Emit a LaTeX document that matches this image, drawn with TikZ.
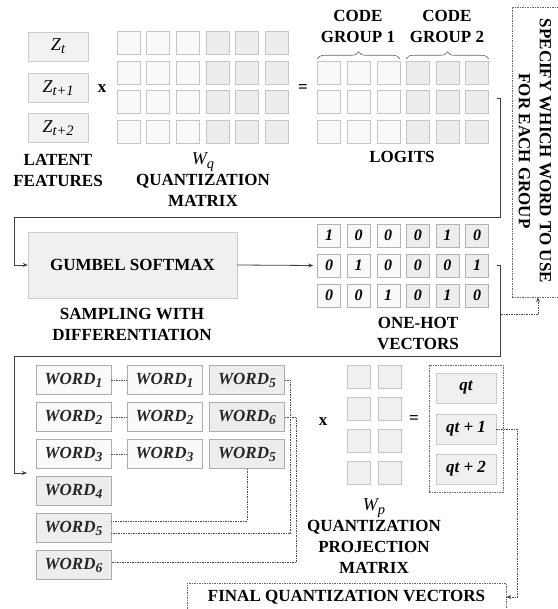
\documentclass[tikz,border=0pt]{standalone}
\usepackage{fontspec}
\setmainfont{Liberation Serif}
\usetikzlibrary{arrows.meta,decorations.pathreplacing}
\newcommand{\lowsub}[1]{\raisebox{-.4ex}{\scalebox{.8}{#1}}}

\begin{document}
\begin{tikzpicture}[x=1pt,y=-1pt,font=\fontsize{17}{21}\selectfont\bfseries,
  cell/.style={draw=gray!45,fill=#1,minimum size=23pt,inner sep=0pt,
    font=\fontsize{16}{16}\selectfont\bfseries\itshape},
  cell/.default=gray!5,
  zbox/.style={draw=gray!40,fill=gray!10,minimum width=60pt,minimum height=29pt,
    inner sep=0pt,font=\fontsize{18}{18}\selectfont\mdseries\itshape},
  wordbox/.style={draw=gray!65,fill=#1,minimum width=75pt,minimum height=29pt,
    inner sep=0pt,text=black!85,font=\fontsize{17}{17}\selectfont\bfseries\itshape},
  wordbox/.default=gray!4,
  conn/.style={draw=black!75,line width=0.8pt},
  dconn/.style={draw=black!70,line width=0.7pt,dash pattern=on 1.5pt off 1pt},
  dbox/.style={draw=black!60,line width=0.6pt,dash pattern=on 1.5pt off 1pt},
  tip/.style={-{Stealth[length=5pt,width=4pt]}}]
\useasboundingbox (0,0) rectangle (557,609);

% latent features x Wq = logits
\node[zbox] (z1) at (58,46.5) {Z\lowsub{t}};
\node[zbox] (z2) at (58,88) {Z\lowsub{t+1}};
\node[zbox] (z3) at (58,128) {Z\lowsub{t+2}};
\node[align=center] (latent) at (58,170) {LATENT\\FEATURES};
\node (times1) at (102,89) {x};
\foreach \r in {1,...,4}{
  \foreach \c in {1,...,6}{
    \ifnum\c>3 \def\cfill{gray!14}\else\def\cfill{gray!5}\fi
    \node[cell=\cfill] (wq-\r-\c) at ({128.5+29.6*(\c-1)},{43+29.5*(\r-1)}) {};
  }
}
\node[align=center] (wqlabel) at (203,180) {{\fontsize{18}{18}\selectfont\mdseries\itshape W\lowsub{q}}\\QUANTIZATION\\MATRIX};
\node (equal1) at (303,89) {=};
\foreach \r in {1,2,3}{
  \foreach \c in {1,...,6}{
    \ifnum\c>3 \def\cfill{gray!14}\else\def\cfill{gray!5}\fi
    \node[cell=\cfill] (l-\r-\c) at ({329+29.6*(\c-1)},{72.5+29.5*(\r-1)}) {};
  }
}
\draw[decorate,decoration={brace,amplitude=7pt},draw=black!60,line width=0.6pt]
  ([yshift=2pt]l-1-1.north west) -- ([yshift=2pt]l-1-3.north east);
\draw[decorate,decoration={brace,amplitude=7pt},draw=black!60,line width=0.6pt]
  ([yshift=2pt]l-1-4.north west) -- ([yshift=2pt]l-1-6.north east);
\node[align=center] (group1) at (358,26) {CODE\\GROUP 1};
\node[align=center] (group2) at (447,26) {CODE\\GROUP 2};
\node (logits) at (402,157) {LOGITS};

\node[dbox,minimum width=52pt,minimum height=290pt] (specify) at (538,152) {};
\node[rotate=-90,align=center] (specifytxt) at (535,151) {SPECIFY WHICH WORD TO USE\\FOR EACH GROUP};

% gumbel softmax -> one-hot
\node[draw=gray!40,fill=gray!12,minimum width=209pt,minimum height=66pt] (gumbel) at (132.5,265) {GUMBEL SOFTMAX};
\node[align=center] (sampling) at (132,324) {SAMPLING WITH\\DIFFERENTIATION};
\foreach \row [count=\r] in {{1,0,0,0,1,0},{0,1,0,0,0,1},{0,0,1,0,1,0}}{
  \foreach \v [count=\c] in \row {
    \ifnum\c>3 \def\cfill{gray!14}\else\def\cfill{gray!5}\fi
    \node[cell=\cfill,draw=gray!60] (o-\r-\c) at ({329+29.6*(\c-1)},{235.5+30*(\r-1)}) {\v};
  }
}
\node[align=center] (onehot) at (418,333) {ONE-HOT\\VECTORS};

\draw[conn,tip] ([shift={(8pt,4pt)}]l-2-6.east) -- ++(4,0) |- (14,217) |- (gumbel.west);
\draw[conn,tip] (gumbel.east) -- ([xshift=-4pt]o-2-1.west);

% words
\foreach \r in {1,...,6}{
  \ifnum\r>3 \def\cfill{gray!14}\else\def\cfill{gray!4}\fi
  \node[wordbox=\cfill] (w-\r-1) at (73.5,{380+37*(\r-1)}) {WORD\lowsub{\r}};
}
\foreach \r in {1,2,3}{
  \node[wordbox] (w-\r-2) at (164.5,{380+37*(\r-1)}) {WORD\lowsub{\r}};
  \draw[dconn] (w-\r-1) -- (w-\r-2);
}
\foreach \w [count=\r] in {5,6,5}{
  \node[wordbox=gray!14] (w-\r-3) at (247,{380+37*(\r-1)}) {WORD\lowsub{\w}};
}
\coordinate (wordsin) at (27,473);
\coordinate (split) at (501,314);
\draw[conn,tip] ([xshift=8pt]o-2-6.east) -- ++(4,0) |- (14,356) |- (wordsin);
\draw[dconn,tip] (split) -| (specify.south);

\draw[dconn] (w-1-3.east) -- ++(6,0) |- ([yshift=-5pt]w-5-1.east);
\draw[dconn] (w-3-3.south) |- ([yshift=7pt]w-5-1.east);
\draw[dconn] (w-2-3.east) -- ++(12,0) |- ([yshift=3pt]w-6-1.east);

% projection
\node (times2) at (323,422) {x};
\foreach \r in {1,...,4}{
  \foreach \c in {1,2}{
    \node[cell=gray!12] (wp-\r-\c) at ({359+30.5*(\c-1)},{376.5+32*(\r-1)}) {};
  }
}
\node[align=center] (wplabel) at (374,536.5) {{\fontsize{18}{18}\selectfont\mdseries\itshape W\lowsub{p}}\\QUANTIZATION\\PROJECTION\\MATRIX};
\node (equal2) at (414,420) {=};
\node[dbox,minimum width=74pt,minimum height=127pt] (qgroup) at (466,428.5) {};
\node[zbox,fill=gray!12,minimum height=30pt,font=\fontsize{17}{17}\selectfont\bfseries\itshape] (qt0) at (466,388) {qt};
\node[zbox,fill=gray!12,minimum height=30pt,font=\fontsize{17}{17}\selectfont\bfseries\itshape] (qt1) at (466,429) {qt + 1};
\node[zbox,fill=gray!12,minimum height=30pt,font=\fontsize{17}{17}\selectfont\bfseries\itshape] (qt2) at (466,469) {qt + 2};
\node[dbox,minimum width=319pt,minimum height=28pt] (final) at (346.5,597) {FINAL QUANTIZATION VECTORS};
\draw[dconn,tip] (qt1.east) -- ++(21,0) |- (final.east);
\end{tikzpicture}
\end{document}
